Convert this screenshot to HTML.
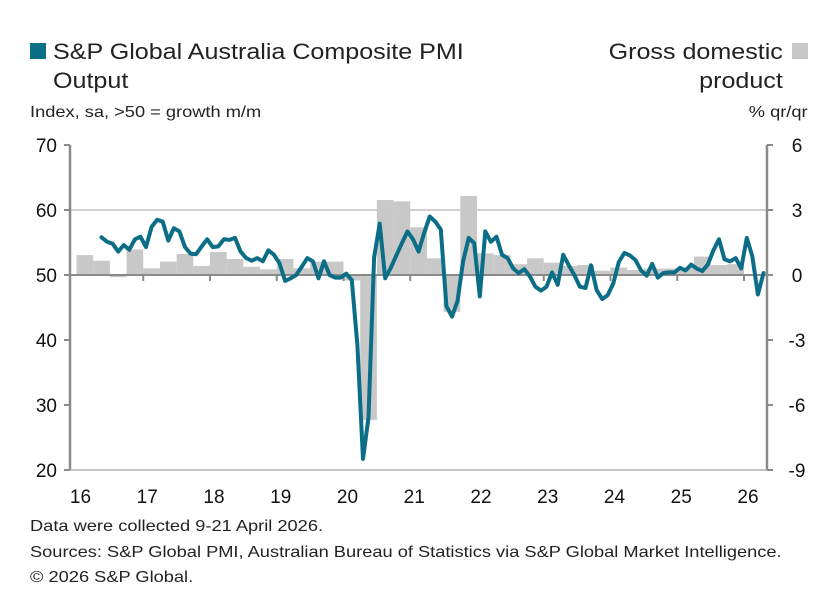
<!DOCTYPE html>
<html><head><meta charset="utf-8"><style>
body{margin:0;background:#fff;font-family:"Liberation Sans",sans-serif;color:#222}
.t{position:absolute;white-space:nowrap}
.sl{transform:scaleX(1.14);transform-origin:left top}
.sr{transform:scaleX(1.14);transform-origin:right top}
</style></head><body>
<div style="position:relative;width:833px;height:601px;overflow:hidden">
<div>
<div class="t" style="left:30px;top:43px;width:16px;height:16px;background:#0b6e86"></div>
<div class="t sl" style="left:53px;top:37px;font-size:22px;line-height:29px">S&amp;P Global Australia Composite PMI<br>Output</div>
</div>
<div>
<div class="t sr" style="right:50px;top:37px;font-size:22px;line-height:29px;text-align:right">Gross domestic<br>product</div>
<div class="t" style="left:792px;top:43px;width:16px;height:16px;background:#c8c8c9"></div>
</div>
<div class="t sl" style="left:30px;top:104px;font-size:16px">Index, sa, &gt;50 = growth m/m</div>
<div class="t sr" style="right:25px;top:104px;font-size:16px">% qr/qr</div>
<svg id="svg" width="833" height="601" style="position:absolute;left:0;top:0"></svg>
<div class="t sl" style="left:30px;top:514px;font-size:16px;line-height:25.5px">Data were collected 9-21 April 2026.<br>Sources: S&amp;P Global PMI, Australian Bureau of Statistics via S&amp;P Global Market Intelligence.<br>© 2026 S&amp;P Global.</div>
</div>
<script>
const pmi=[55.8,55.1,54.8,53.6,54.6,53.9,55.5,55.9,
54.3,57.4,58.5,58.2,55.3,57.2,56.7,54.3,53.3,53.2,54.4,55.5,
54.3,54.4,55.5,55.4,55.7,53.6,52.6,52.2,52.6,52.1,53.8,53.1,
51.8,49.1,49.5,50.0,51.3,52.6,52.1,49.5,52.1,50.0,49.6,49.6,
50.2,49.2,39.2,21.7,28.1,52.7,57.9,49.5,51.1,53.0,54.9,56.7,
55.5,53.6,56.5,59.0,58.2,57.0,45.2,43.6,46.0,52.1,55.7,54.9,
46.7,56.7,55.1,55.9,53.1,52.6,51.0,50.3,50.9,49.8,48.2,47.6,
48.2,50.4,48.5,53.1,51.5,50.0,48.2,48.0,51.5,47.7,46.3,46.9,
48.7,52.0,53.4,53.0,52.3,50.7,49.9,51.7,49.6,50.3,50.4,50.4,
51.1,50.7,51.6,51.0,50.6,51.6,53.8,55.5,52.4,52.1,52.6,51.0,
55.7,52.9,47.0,50.3];
const pmiStartMonth=4; // May 2016 (months since Jan 2016)
const gdp=[0.92,0.66,-0.1,1.18,0.31,0.62,0.97,0.42,1.06,0.74,0.38,0.26,0.74,0.31,0.62,0.62,
-0.25,-6.7,3.46,3.4,2.2,0.77,-1.7,3.65,1.0,0.92,0.5,0.77,0.57,0.42,0.46,0.2,0.34,0.23,0.3,0.3,0.33,0.85,0.46,0.5];
const yearLabels=["16","17","18","19","20","21","22","23","24","25","26"];
const leftTicks=[70,60,50,40,30,20];
const rightTicks=["6","3","0","-3","-6","-9"];
const NS="http://www.w3.org/2000/svg";
const svg=document.getElementById('svg');
const X0=76.5,YEARW=66.75,L=70,R=767,T=145,B=470;
const xm=m=>X0+m*YEARW/12;
const yL=v=>T+(70-v)*(B-T)/50;
const yR=v=>T+(6-v)*(B-T)/15;
function el(tag,attrs){const e=document.createElementNS(NS,tag);for(const k in attrs)e.setAttribute(k,attrs[k]);svg.appendChild(e);return e;}
let g=el('line',{x1:L,x2:R,y1:yL(60),y2:yL(60),stroke:'#b5b5b5','stroke-width':1.3});


gdp.forEach((v,i)=>{
 const x=xm(i*3),w=YEARW/4;
 const y0=yR(0),y1=yR(v);
 const r=el('rect',{x:x,y:Math.min(y0,y1),width:w,height:Math.abs(y1-y0),fill:'#c8c8c9'});
 
 
});
let z=el('line',{x1:L,x2:R,y1:yL(50),y2:yL(50),stroke:'#8a8a8a','stroke-width':2});


for(let i=1;i<yearLabels.length;i++){
 const t=el('line',{x1:xm(i*12),x2:xm(i*12),y1:yL(50),y2:yL(50)+6,stroke:'#8a8a8a','stroke-width':2});
 
 
}
let a1=el('line',{x1:L,x2:L,y1:T,y2:B,stroke:'#8a8a8a','stroke-width':2.5});


let a2=el('line',{x1:R,x2:R,y1:T,y2:B,stroke:'#8a8a8a','stroke-width':2.5});


let a3=el('line',{x1:L-6,x2:R+6,y1:B,y2:B,stroke:'#b0b0b0','stroke-width':1.5});


leftTicks.forEach(v=>{
 const t=el('line',{x1:L-6,x2:L,y1:yL(v),y2:yL(v),stroke:'#8a8a8a','stroke-width':2});
 
 
 const tx=el('text',{x:57,y:yL(v)+7,'text-anchor':'end','font-size':19,fill:'#111'});
 tx.textContent=v;
 
 
});
rightTicks.forEach(s=>{
 const v=+s;
 const t=el('line',{x1:R,x2:R+6,y1:yR(v),y2:yR(v),stroke:'#8a8a8a','stroke-width':2});
 
 
 const tx=el('text',{x:797,y:yR(v)+7,'text-anchor':'middle','font-size':19,fill:'#111'});
 tx.textContent=s;
 
 
});
yearLabels.forEach((s,i)=>{
 const tx=el('text',{x:xm(i*12)+4,y:503,'text-anchor':'middle','font-size':19,fill:'#111'});
 tx.textContent=s;
 
 
});
const pts=pmi.map((v,i)=>xm(pmiStartMonth+i+0.5).toFixed(1)+','+yL(v).toFixed(1)).join(' ');
const pl=el('polyline',{points:pts,fill:'none',stroke:'#0b6e86','stroke-width':4,'stroke-linejoin':'round','stroke-linecap':'round'});


</script>
</body></html>
